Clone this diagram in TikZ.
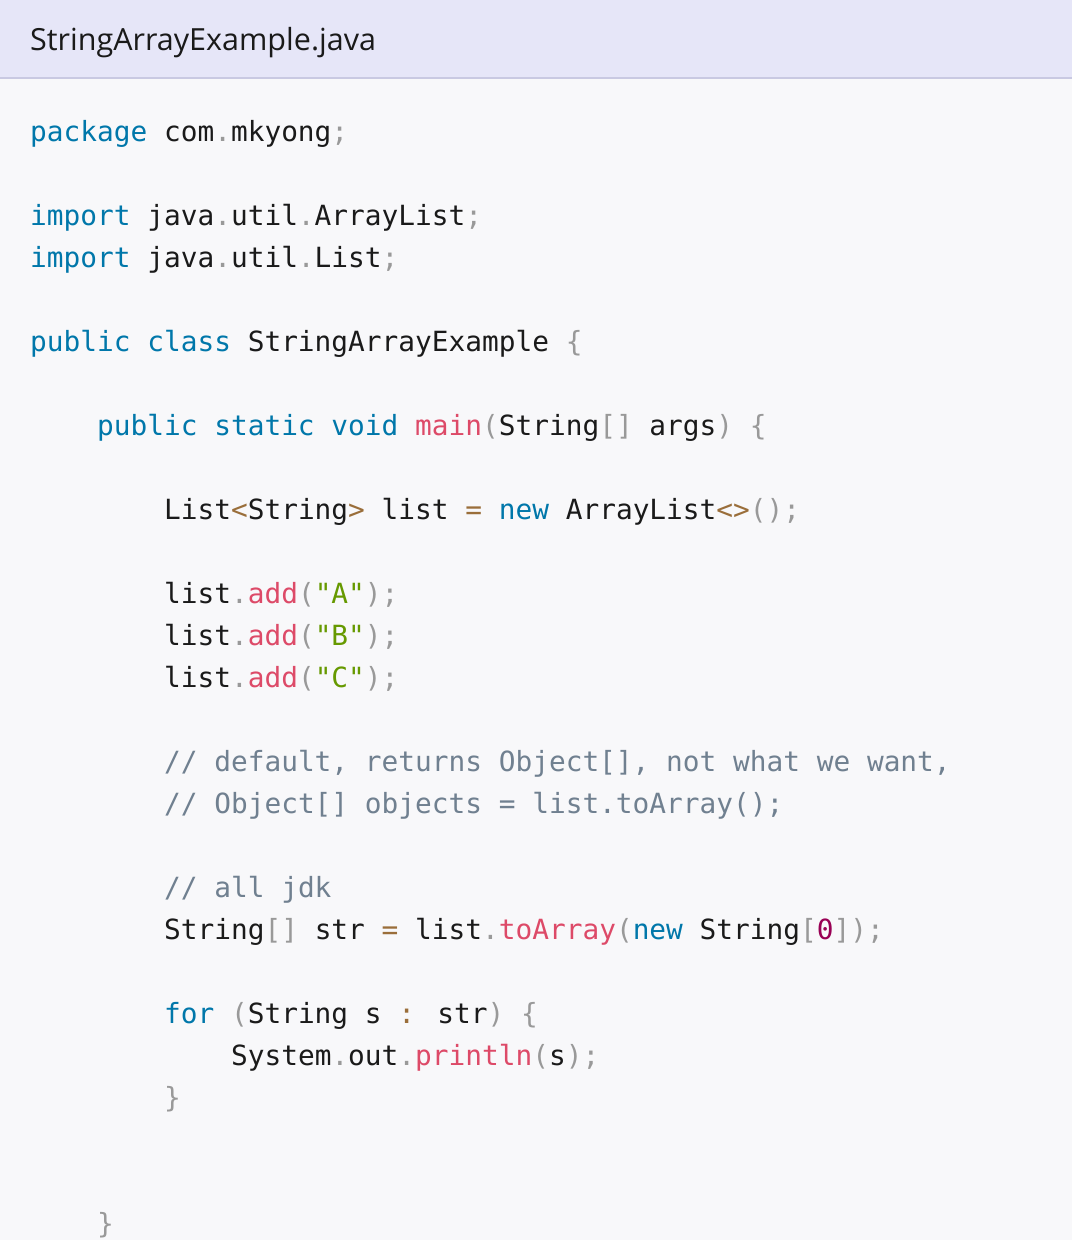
\documentclass[tikz,border=0pt]{standalone}
\usepackage{fontspec}
\setmainfont{Open Sans}
\newfontfamily\codefont{DejaVu Sans Mono}
\definecolor{bgc}{HTML}{F8F8FA}
\definecolor{hdc}{HTML}{E6E6F8}
\definecolor{hdl}{HTML}{C9C9E2}
\definecolor{kwc}{HTML}{0077AA}
\definecolor{fnc}{HTML}{DD4A68}
\definecolor{stc}{HTML}{669900}
\definecolor{puc}{HTML}{999999}
\definecolor{opc}{HTML}{9A6E3A}
\definecolor{nmc}{HTML}{990055}
\definecolor{cmc}{HTML}{708090}
\definecolor{txc}{HTML}{1A1A1A}
\newcommand\cK[1]{\textcolor{kwc}{#1}}
\newcommand\cF[1]{\textcolor{fnc}{#1}}
\newcommand\cS[1]{\textcolor{stc}{#1}}
\newcommand\cP[1]{\textcolor{puc}{#1}}
\newcommand\cO[1]{\textcolor{opc}{#1}}
\newcommand\cN[1]{\textcolor{nmc}{#1}}
\newcommand\cC[1]{\textcolor{cmc}{#1}}
\begin{document}
\begin{tikzpicture}[x=1pt,y=1pt,
  code/.style={anchor=base west,inner sep=0pt,font=\codefont\fontsize{27.8}{30}\selectfont,text=txc}]
\useasboundingbox (0,0) rectangle (1072,-1240);
\fill[bgc] (0,0) rectangle (1072,-1240);
\fill[hdc] (0,0) rectangle (1072,-78);
\draw[hdl,line width=1.5pt] (0,-78) -- (1072,-78);
\node[anchor=base west,inner sep=0pt,font=\fontsize{30.5}{33}\selectfont,text=txc] (hdr) at (30,-50) {StringArrayExample.java};
\def\cw{16.74}
\node[code] (l1) at (30,-141) {\cK{package} com\cP{.}mkyong\cP{;}};
\node[code] (l2) at (30,-225) {\cK{import} java\cP{.}util\cP{.}ArrayList\cP{;}};
\node[code] (l3) at (30,-267) {\cK{import} java\cP{.}util\cP{.}List\cP{;}};
\node[code] (l4) at (30,-351) {\cK{public} \cK{class} StringArrayExample \cP{\{}};
\node[code] (l5) at (30+4*\cw,-435) {\cK{public} \cK{static} \cK{void} \cF{main}\cP{(}String\cP{[]} args\cP{)} \cP{\{}};
\node[code] (l6) at (30+8*\cw,-519) {List\cO{<}String\cO{>} list \cO{=} \cK{new} ArrayList\cO{<>}\cP{();}};
\node[code] (l7) at (30+8*\cw,-603) {list\cP{.}\cF{add}\cP{(}\cS{"A"}\cP{);}};
\node[code] (l8) at (30+8*\cw,-645) {list\cP{.}\cF{add}\cP{(}\cS{"B"}\cP{);}};
\node[code] (l9) at (30+8*\cw,-687) {list\cP{.}\cF{add}\cP{(}\cS{"C"}\cP{);}};
\node[code] (l10) at (30+8*\cw,-771) {\cC{// default, returns Object[], not what we want,}};
\node[code] (l11) at (30+8*\cw,-813) {\cC{// Object[] objects = list.toArray();}};
\node[code] (l12) at (30+8*\cw,-897) {\cC{// all jdk}};
\node[code] (l13) at (30+8*\cw,-939) {String\cP{[]} str \cO{=} list\cP{.}\cF{toArray}\cP{(}\cK{new} String\cP{[}\cN{0}\cP{]);}};
\node[code] (l14) at (30+8*\cw,-1023) {\cK{for} \cP{(}String s \cO{:} str\cP{)} \cP{\{}};
\node[code] (l15) at (30+12*\cw,-1065) {System\cP{.}out\cP{.}\cF{println}\cP{(}s\cP{);}};
\node[code] (l16) at (30+8*\cw,-1107) {\cP{\}}};
\node[code] (l17) at (30+4*\cw,-1233) {\cP{\}}};
\end{tikzpicture}
\end{document}
